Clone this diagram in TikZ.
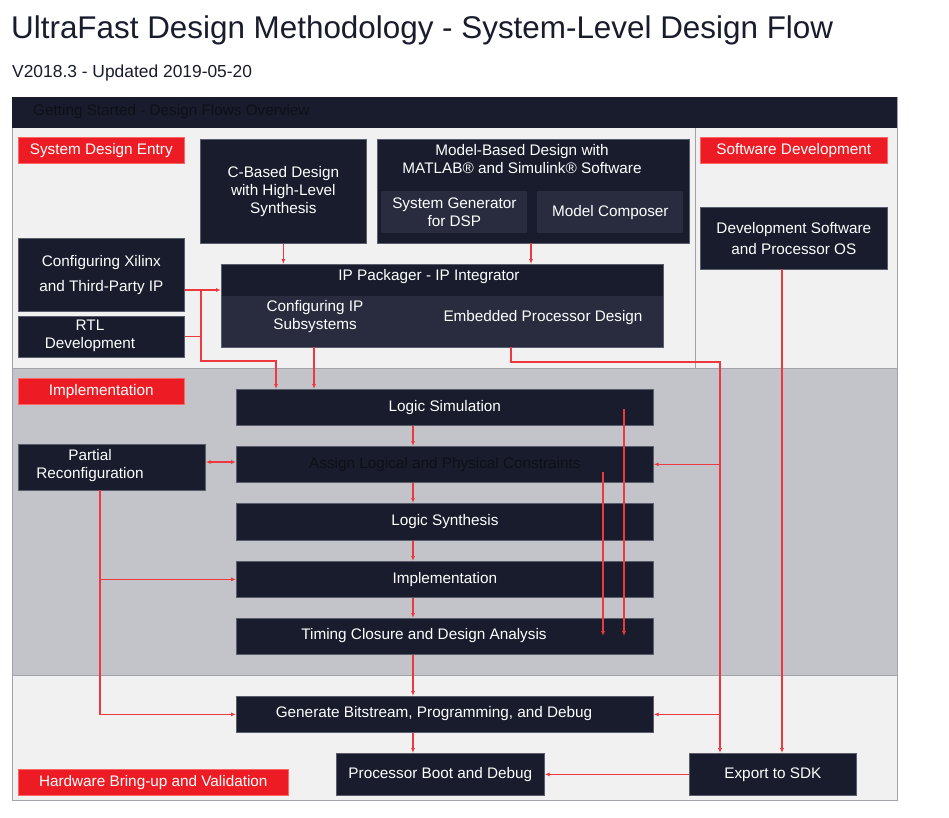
\documentclass[tikz,border=0pt]{standalone}
\usepackage{fontspec}
\setmainfont{Liberation Sans}
\usetikzlibrary{arrows.meta,calc}
\definecolor{navy}{RGB}{24,28,44}
\definecolor{subnavy}{RGB}{40,44,62}
\definecolor{xred}{RGB}{237,28,36}
\definecolor{lred}{RGB}{236,56,62}
\definecolor{lightbg}{RGB}{241,241,241}
\definecolor{graybg}{RGB}{195,196,201}
\definecolor{framec}{RGB}{162,163,170}
\definecolor{edgec}{RGB}{90,94,108}
\definecolor{darktxt}{RGB}{14,16,24}
\begin{document}
\begin{tikzpicture}[x=1pt,y=-1pt,
  dbox/.style={fill=navy,draw=edgec,line width=0.7pt,text=white,anchor=north west,inner sep=0pt,align=center,font=\fontsize{15.3}{18}\selectfont},
  sbox/.style={dbox,fill=subnavy,draw=none},
  redlab/.style={fill=xred,draw=red!60!white,line width=0.5pt,text=white,anchor=north west,inner sep=0pt,font=\fontsize{15.3}{18}\selectfont},
  wtxt/.style={text=white,inner sep=0pt,align=center,font=\fontsize{15.3}{18}\selectfont},
  rl/.style={draw=lred,line width=1.1pt},
  ar/.style={-{Latex[length=5pt,width=4pt]}},
  ab/.style={{Latex[length=5pt,width=4pt]}-{Latex[length=5pt,width=4pt]}}
]
\useasboundingbox[fill=white] (0,0) rectangle (949,817);
% title
\node[anchor=base west,inner sep=0pt,text=navy,font=\fontsize{31.4}{36}\selectfont] (title) at (11,38) {UltraFast Design Methodology - System-Level Design Flow};
\node[anchor=base west,inner sep=0pt,text=navy,font=\fontsize{17.4}{20}\selectfont] (subtitle) at (12,77) {V2018.3 - Updated 2019-05-20};
% frame and sections
\fill[lightbg] (12,128) rectangle (897,368);
\fill[graybg] (12,368) rectangle (897,675);
\fill[lightbg] (12,675) rectangle (897,800);
\draw[framec,line width=1pt] (12,97) rectangle (897,800);
\draw[framec,line width=1pt] (12,368) -- (897,368);
\draw[framec,line width=1pt] (12,675) -- (897,675);
\draw[framec,line width=1pt] (695,128) -- (695,368);
\node[fill=navy,anchor=north west,inner sep=0pt,minimum width=885pt,minimum height=31pt] (header) at (12,97) {};
\node[anchor=west,inner sep=0pt,text=darktxt,font=\fontsize{15.3}{18}\selectfont] (headertxt) at (33,112) {Getting Started - Design Flows Overview};
% red labels
\node[redlab,minimum width=166pt,minimum height=26pt] (sde) at (18,137) {System Design Entry};
\node[redlab,minimum width=187pt,minimum height=26pt] (swdev) at (700,137) {Software Development};
\node[redlab,minimum width=166pt,minimum height=26pt] (impllab) at (18,378) {Implementation};
\node[redlab,minimum width=270pt,minimum height=26pt] (hwlab) at (18,769) {Hardware Bring-up and Validation};
% system design entry boxes
\node[dbox,minimum width=166pt,minimum height=104pt] (cbased) at (200,139) {C-Based Design\\with High-Level\\Synthesis};
\node[dbox,minimum width=312pt,minimum height=104pt] (model) at (377,139) {};
\node[wtxt] (modeltxt) at (522,159) {Model-Based Design with\\MATLAB® and Simulink® Software};
\node[sbox,minimum width=146pt,minimum height=42pt] (sysgen) at (381,191) {System Generator\\for DSP};
\node[sbox,minimum width=146pt,minimum height=42pt] (modelcomp) at (537,191) {Model Composer};
\node[dbox,minimum width=166pt,minimum height=73pt,font=\fontsize{15.3}{25}\selectfont] (xilinx) at (18,238) {Configuring Xilinx\\and Third-Party IP};
\node[dbox,minimum width=166pt,minimum height=41pt] (rtl) at (18,316) {};
\node[wtxt] (rtltxt) at (90,336) {RTL\\Development};
\node[dbox,minimum width=442pt,minimum height=83pt] (ippack) at (221,264) {};
\node[sbox,minimum width=441pt,minimum height=51pt] (iplower) at (221.5,295.5) {};
\node[wtxt] (iptitle) at (429,277) {IP Packager - IP Integrator};
\node[wtxt] (cfgip) at (315,317) {Configuring IP\\Subsystems};
\node[wtxt] (epd) at (543,318) {Embedded Processor Design};
\node[dbox,minimum width=187pt,minimum height=62pt,font=\fontsize{15.3}{21}\selectfont] (devsw) at (700,207) {Development Software\\and Processor OS};
% implementation boxes
\node[dbox,minimum width=417pt,minimum height=36pt] (logicsim) at (236,389) {Logic Simulation};
\node[dbox,minimum width=417pt,minimum height=36pt,text=darktxt] (assign) at (236,446) {Assign Logical and Physical Constraints};
\node[dbox,minimum width=417pt,minimum height=37pt] (synth) at (236,503) {Logic Synthesis};
\node[dbox,minimum width=417pt,minimum height=36pt] (impl) at (236,561) {Implementation};
\node[dbox,minimum width=417pt,minimum height=36pt] (timing) at (236,618) {};
\node[wtxt] (timingtxt) at (424,636) {Timing Closure and Design Analysis};
\node[dbox,minimum width=187pt,minimum height=46pt] (partial) at (18,444) {};
\node[wtxt] (partialtxt) at (90,466) {Partial\\Reconfiguration};
% bring-up boxes
\node[dbox,minimum width=417pt,minimum height=36pt] (genbit) at (236,696) {};
\node[wtxt] (genbittxt) at (434,714) {Generate Bitstream, Programming, and Debug};
\node[dbox,minimum width=208pt,minimum height=42pt] (procboot) at (336,753) {Processor Boot and Debug};
\node[dbox,minimum width=167pt,minimum height=42pt] (export) at (689,753) {Export to SDK};
% connector helper coordinates
\coordinate (j1) at (201,290);
\coordinate (j2) at (276,361);
\coordinate (mo) at (531,243);
\coordinate (ipo) at (314,347);
\coordinate (epo) at (511,347);
\coordinate (j3) at (720,362);
\coordinate (dso) at (782,269);
\coordinate (cx) at (413,0);
\coordinate (pa) at (0,462);
\coordinate (pb) at (100,490);
\coordinate (ls) at (624,409);
\coordinate (as) at (603,472);
\coordinate (tend) at (0,636);
% connectors
\draw[rl,ar] (cbased.south) -- (cbased.south |- ippack.north);
\draw[rl,ar] (mo) -- (mo |- ippack.north);
\draw[rl,ar] (xilinx.east |- j1) -- (ippack.west |- j1);
\draw[rl] (rtl.east) -| (j1);
\draw[rl,ar] (j1) |- (j2) -- (j2 |- logicsim.north);
\draw[rl,ar] (ipo) -- (ipo |- logicsim.north);
\draw[rl,ar] (epo) |- (j3) -- (j3 |- export.north);
\draw[rl,ar] (j3 |- assign.east) -- (assign.east);
\draw[rl,ar] (j3 |- genbit.east) -- (genbit.east);
\draw[rl,ar] (dso) -- (dso |- export.north);
\draw[rl,ar] (logicsim.south -| cx) -- (assign.north -| cx);
\draw[rl,ar] (assign.south -| cx) -- (synth.north -| cx);
\draw[rl,ar] (synth.south -| cx) -- (impl.north -| cx);
\draw[rl,ar] (impl.south -| cx) -- (timing.north -| cx);
\draw[rl,ar] (timing.south -| cx) -- (genbit.north -| cx);
\draw[rl,ar] (genbit.south -| cx) -- (procboot.north -| cx);
\draw[rl,ar] (ls) -- (ls |- tend);
\draw[rl,ar] (as) -- (as |- tend);
\draw[rl,ab] (partial.east |- pa) -- (assign.west |- pa);
\draw[rl,ar] (pb) |- (genbit.west);
\draw[rl,ar] (pb |- impl.west) -- (impl.west);
\draw[rl,ar] (export.west) -- (procboot.east);
\end{tikzpicture}
\end{document}
